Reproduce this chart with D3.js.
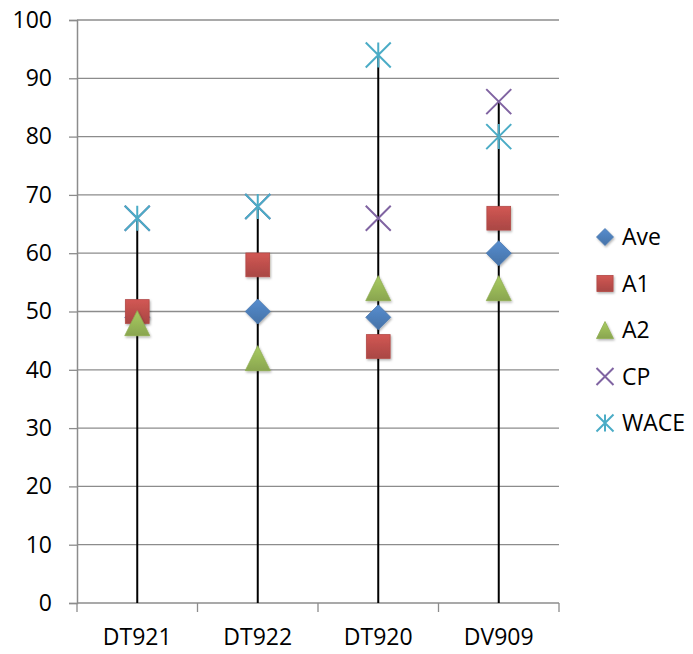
<!DOCTYPE html>
<html>
<head>
<meta charset="utf-8">
<script src="https://cdn.jsdelivr.net/npm/d3@7"></script>
<style>
  html, body { margin: 0; padding: 0; background: #fff; }
  svg { display: block; }
  text { font-family: "Open Sans", "DejaVu Sans", sans-serif; fill: #000; }
</style>
</head>
<body>
<svg id="chart" width="693" height="654"></svg>
<script>
// Categories and series values
const categories = ["DT921", "DT922", "DT920", "DV909"];
const aveValues  = [49, 50, 49, 60];
const a1Values   = [50, 58, 44, 66];
const a2Values   = [48, 42, 54, 54];
const cpValues   = [66, 68, 66, 86];
const waceValues = [66, 68, 94, 80];
const yTicks     = [0, 10, 20, 30, 40, 50, 60, 70, 80, 90, 100];

const series = [
  { name: "Ave",  values: aveValues,  color: "#4F81BD", shape: "diamond" },
  { name: "A1",   values: a1Values,   color: "#C0504D", shape: "square" },
  { name: "A2",   values: a2Values,   color: "#9BBB59", shape: "triangle" },
  { name: "CP",   values: cpValues,   color: "#8064A2", shape: "cross" },
  { name: "WACE", values: waceValues, color: "#4BACC6", shape: "star" }
];

const svg = d3.select("#chart");
const margin = { left: 77, right: 134, top: 20, bottom: 51 };
const W = 693, H = 654;
const FONT = 23;

const x = d3.scaleBand().domain(categories).range([margin.left, W - margin.right]);
const y = d3.scaleLinear().domain([0, 100]).range([H - margin.bottom, margin.top]);

const defs = svg.append("defs");
series.forEach((s, i) => {
  const g = defs.append("linearGradient").attr("id", "grad" + i)
    .attr("x1", 0).attr("y1", 0).attr("x2", 0).attr("y2", 1);
  g.append("stop").attr("offset", "0%").attr("stop-color", d3.color(s.color).brighter(0.25));
  g.append("stop").attr("offset", "100%").attr("stop-color", d3.color(s.color).darker(0.35));
});
const shadow = defs.append("filter").attr("id", "shadow")
  .attr("x", "-30%").attr("y", "-30%").attr("width", "160%").attr("height", "160%");
shadow.append("feDropShadow").attr("dx", 1).attr("dy", 1.5).attr("stdDeviation", 1.2)
  .attr("flood-color", "#000").attr("flood-opacity", 0.3);

// Gridlines
svg.append("g")
  .selectAll("line").data(yTicks.filter(t => t > 0)).join("line")
  .attr("x1", margin.left).attr("x2", W - margin.right)
  .attr("y1", d => y(d)).attr("y2", d => y(d))
  .attr("stroke", "#8c8c8c").attr("stroke-width", 1.3);

// Y axis
const yAxis = svg.append("g").attr("transform", `translate(${margin.left},0)`)
  .call(d3.axisLeft(y).tickValues(yTicks).tickSize(8).tickPadding(17));
yAxis.attr("font-size", null).attr("font-family", null);
yAxis.select(".domain").attr("stroke", "#8c8c8c").attr("stroke-width", 1.5);
yAxis.selectAll(".tick line").attr("stroke", "#8c8c8c").attr("stroke-width", 1.3);
yAxis.selectAll("text").style("font-size", FONT + "px").attr("fill", "#000");

// X axis with ticks between categories
const xAxis = svg.append("g").attr("transform", `translate(0,${y(0)})`);
xAxis.append("line")
  .attr("x1", margin.left).attr("x2", W - margin.right)
  .attr("y1", 0).attr("y2", 0)
  .attr("stroke", "#8c8c8c").attr("stroke-width", 1.5);
const boundaries = categories.map(c => x(c)).concat([x(categories[categories.length - 1]) + x.bandwidth()]);
xAxis.selectAll("line.tk").data(boundaries).join("line").attr("class", "tk")
  .attr("x1", d => d).attr("x2", d => d).attr("y1", 0).attr("y2", 9)
  .attr("stroke", "#8c8c8c").attr("stroke-width", 1.3);
xAxis.selectAll("text").data(categories).join("text")
  .attr("x", d => x(d) + x.bandwidth() / 2).attr("y", 42)
  .attr("text-anchor", "middle").style("font-size", FONT + "px")
  .text(d => d);

// High lines from zero to the top value of each category
svg.append("g").selectAll("line").data(categories).join("line")
  .attr("x1", d => x(d) + x.bandwidth() / 2).attr("x2", d => x(d) + x.bandwidth() / 2)
  .attr("y1", y(0))
  .attr("y2", (d, i) => y(d3.max(series, s => s.values[i])))
  .attr("stroke", "#000").attr("stroke-width", 2);

// Marker drawing
function drawMarker(g, shape, color, idx, size) {
  const h = size / 2;
  if (shape === "diamond") {
    g.append("path").attr("d", `M0,${-h}L${h},0L0,${h}L${-h},0Z`)
      .attr("fill", `url(#grad${idx})`).attr("stroke", d3.color(color).darker(0.2))
      .attr("stroke-width", 0.8).attr("filter", "url(#shadow)");
  } else if (shape === "square") {
    const r = h * 0.95;
    g.append("rect").attr("x", -r).attr("y", -r).attr("width", 2 * r).attr("height", 2 * r)
      .attr("fill", `url(#grad${idx})`).attr("stroke", d3.color(color).darker(0.2))
      .attr("stroke-width", 0.8).attr("filter", "url(#shadow)");
  } else if (shape === "triangle") {
    g.append("path").attr("d", `M0,${-h}L${h},${h}L${-h},${h}Z`)
      .attr("fill", `url(#grad${idx})`).attr("stroke", d3.color(color).darker(0.2))
      .attr("stroke-width", 0.8).attr("filter", "url(#shadow)");
  } else if (shape === "cross") {
    g.append("path").attr("d", `M${-h},${-h}L${h},${h}M${-h},${h}L${h},${-h}`)
      .attr("stroke", color).attr("stroke-width", 2).attr("fill", "none");
  } else if (shape === "star") {
    g.append("path").attr("d", `M${-h},${-h}L${h},${h}M${-h},${h}L${h},${-h}M0,${-h}L0,${h}`)
      .attr("stroke", color).attr("stroke-width", 2).attr("fill", "none");
  }
}

// Series markers
series.forEach((s, i) => {
  const g = svg.append("g");
  categories.forEach((c, j) => {
    const m = g.append("g")
      .attr("transform", `translate(${x(c) + x.bandwidth() / 2},${y(s.values[j])})`);
    drawMarker(m, s.shape, s.color, i, 25);
  });
});

// Legend
const legend = svg.append("g").attr("transform", "translate(605,237)");
series.forEach((s, i) => {
  const row = legend.append("g").attr("transform", `translate(0,${i * 46.5})`);
  const m = row.append("g");
  drawMarker(m, s.shape, s.color, i, 17);
  row.append("text").attr("x", 17).attr("y", 8).style("font-size", FONT + "px").text(s.name);
});
</script>
</body>
</html>
